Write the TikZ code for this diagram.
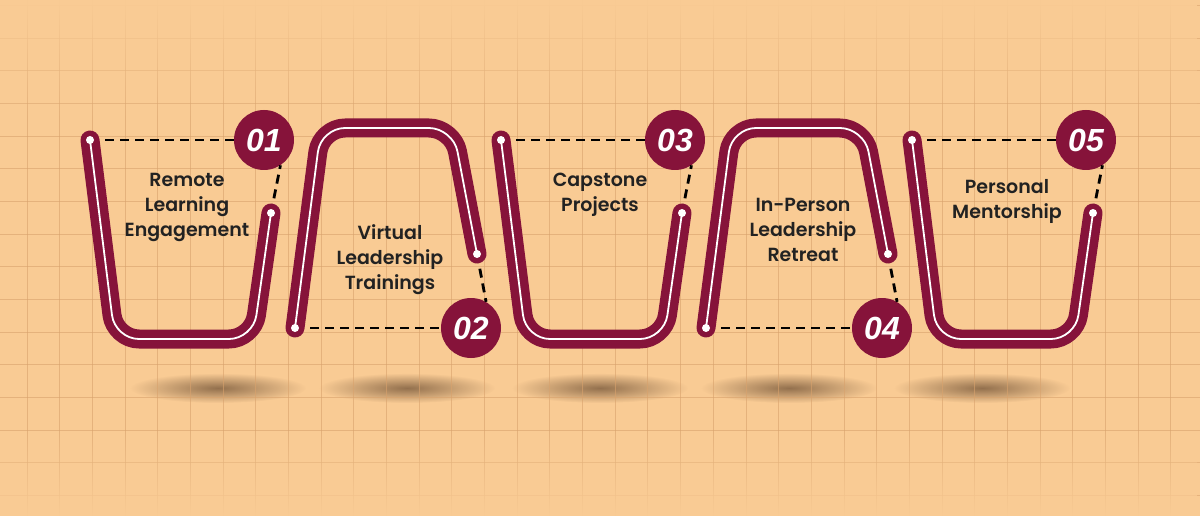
\documentclass[tikz,border=0pt]{standalone}
\usepackage{fontspec}
\setmainfont{Poppins}[BoldFont={Poppins SemiBold}]
\newfontfamily\numfont{Liberation Sans}
\usetikzlibrary{fadings}
\definecolor{bgc}{HTML}{F9CB94}
\definecolor{gridc}{HTML}{D9A26C}
\definecolor{wine}{HTML}{86133A}
\definecolor{ink}{HTML}{222222}
\definecolor{shd}{HTML}{7A5A3C}
\tikzfading[name=blobfade, inner color=transparent!0, outer color=transparent!100]

\begin{document}
\begin{tikzpicture}[x=1pt, y=-1pt,
  band/.style={draw=wine, line width=19pt, line cap=round, line join=round, rounded corners=24pt},
  wire/.style={draw=white, line width=1.8pt, line cap=round, rounded corners=24pt},
  lead/.style={draw=black, line width=2.8pt, dash pattern=on 9pt off 6pt},
  badge/.style={circle, fill=wine, minimum size=60pt, inner sep=0pt, text=white,
                font=\numfont\bfseries\itshape\fontsize{32}{32}\selectfont},
  caption/.style={align=center, text=ink, font=\fontsize{19}{25}\selectfont\bfseries}
]
  \useasboundingbox (0,0) rectangle (1200,516);
  \fill[bgc] (0,0) rectangle (1200,516);

  % soft shadows under the cups
  \foreach \sx in {218,407,600,789,982}
    \fill[shd, path fading=blobfade, fill opacity=0.8] (\sx,388) ellipse (88 and 15);

  % paper grid
  \foreach \gx in {0,...,36}
    \draw[gridc, line width=0.9pt, opacity=0.6] (27+32.68*\gx,0) -- (27+32.68*\gx,516);
  \foreach \gy in {0,...,15}
    \draw[gridc, line width=0.9pt, opacity=0.6] (0,5.3+32.68*\gy) -- (1200,5.3+32.68*\gy);
  \fill[bgc, path fading=south] (0,0) rectangle (1200,120);
  \fill[bgc, path fading=north] (0,430) rectangle (1200,516);

  % open cups: 01, 03, 05
  \foreach \n/\dx in {1/0, 3/411, 5/822} {
    \begin{scope}[xshift=\dx pt]
      \coordinate (l\n) at (90,140);
      \coordinate (r\n) at (271,213);
      \node[badge] (b\n) at (264,140) {0\n};
      \draw[lead] (l\n) -- (b\n);
      \draw[lead] (r\n) -- (b\n.-57);
      \draw[band] (l\n) -- (115,339) -- (253,339) -- (r\n);
      \draw[wire] (l\n) -- (115,339) -- (253,339) -- (r\n);
      \fill[white] (l\n) circle (4pt) (r\n) circle (4pt);
    \end{scope}
  }

  % arches: 02, 04
  \foreach \n/\dx in {2/0, 4/411} {
    \begin{scope}[xshift=\dx pt]
      \coordinate (l\n) at (295,328);
      \coordinate (r\n) at (477,254);
      \node[badge] (b\n) at (471,328) {0\n};
      \draw[lead] (l\n) -- (b\n);
      \draw[lead] (r\n) -- (b\n.60);
      \draw[band] (l\n) -- (321,128) -- (453,128) -- (r\n);
      \draw[wire] (l\n) -- (321,128) -- (453,128) -- (r\n);
      \fill[white] (l\n) circle (4pt) (r\n) circle (4pt);
    \end{scope}
  }

  \node[caption] (t1) at (187,207) {Remote\\Learning\\Engagement};
  \node[caption] (t2) at (390,260) {Virtual\\Leadership\\Trainings};
  \node[caption] (t3) at (600,195) {Capstone\\Projects};
  \node[caption] (t4) at (803,230) {In-Person\\Leadership\\Retreat};
  \node[caption] (t5) at (1007,201) {Personal\\Mentorship};
\end{tikzpicture}
\end{document}
